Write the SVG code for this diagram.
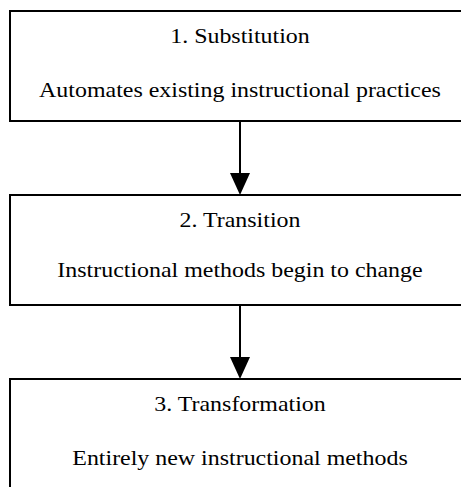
<svg xmlns="http://www.w3.org/2000/svg" width="461" height="487" viewBox="0 0 461 487">
<style>
.box{fill:#fff;stroke:#000;stroke-width:2}
.c{stroke:#000;stroke-width:2;fill:none}
.ah{fill:#000}
.t{font-family:"Liberation Serif","Times New Roman","DejaVu Serif",serif;font-size:22px;text-anchor:middle;fill:#000}
</style>
<rect width="461" height="487" fill="#fff"/>
<g id="node1">
<rect class="box" x="10" y="11" width="460" height="110"/>
<g transform="matrix(1.088 0 0 1 -21.12 0)">
<text class="t" x="240" y="43">1. Substitution</text>
<text class="t" x="240" y="97">Automates existing instructional practices</text>
</g>
</g>
<g id="node2">
<rect class="box" x="10" y="195" width="460" height="110"/>
<g transform="matrix(1.088 0 0 1 -21.12 0)">
<text class="t" x="240" y="227">2. Transition</text>
<text class="t" x="240" y="277">Instructional methods begin to change</text>
</g>
</g>
<g id="node3">
<rect class="box" x="10" y="379" width="460" height="120"/>
<g transform="matrix(1.088 0 0 1 -21.12 0)">
<text class="t" x="240" y="411">3. Transformation</text>
<text class="t" x="240" y="465">Entirely new instructional methods</text>
</g>
</g>
<g id="connectors">
<line class="c" x1="240" y1="121" x2="240" y2="174"/>
<polygon class="ah" points="230,173 250,173 240,195"/>
<line class="c" x1="240" y1="305" x2="240" y2="358"/>
<polygon class="ah" points="230,357 250,357 240,379"/>
</g>
</svg>
